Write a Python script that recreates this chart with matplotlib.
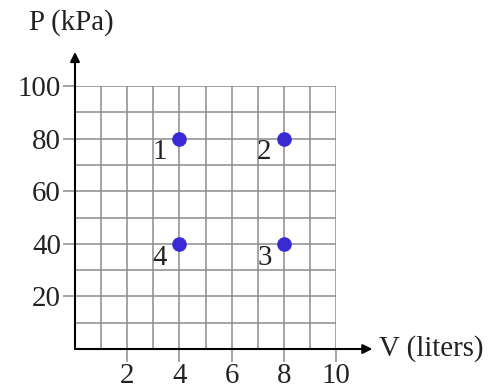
import matplotlib
matplotlib.use("Agg")
import matplotlib.pyplot as plt

# data
vol = [4, 8, 8, 4]
pres = [80, 80, 40, 40]
state_labels = ["1", "2", "3", "4"]
x_ticks = [2, 4, 6, 8, 10]
y_ticks = [20, 40, 60, 80, 100]

plt.rcParams['font.family'] = ['Liberation Serif', 'DejaVu Serif']
GRID = '#8c8c8c'
DOT = '#3a2ad6'
TXT = '#222222'
FS = 20.8

fig = plt.figure(figsize=(5.03, 3.88), dpi=100)
W, H = 503.0, 388.0
ax = fig.add_axes([75 / W, 1 - 349 / H, (336 - 75) / W, (349 - 86) / H])
ax.set_xlim(0, 10)
ax.set_ylim(0, 100)

# grid
for gx in range(1, 11):
    ax.axvline(gx, color=GRID, lw=1.1, zorder=1)
for gy in range(10, 101, 10):
    ax.axhline(gy, color=GRID, lw=1.1, zorder=1)

for s in ['top', 'right']:
    ax.spines[s].set_visible(False)
for s in ['left', 'bottom']:
    ax.spines[s].set_linewidth(1.5)
    ax.spines[s].set_zorder(3)

ax.set_xticks(x_ticks)
ax.set_yticks(y_ticks)
ax.set_xticklabels([str(t) for t in x_ticks])
ax.set_yticklabels([str(t) for t in y_ticks])
ax.tick_params(length=9, width=1.1, color=GRID, labelsize=FS, labelcolor=TXT, pad=1)

# arrows
ax.annotate('', xy=(0, 114), xytext=(0, 99), annotation_clip=False,
            arrowprops=dict(arrowstyle='-|>', color='black', lw=1.5, mutation_scale=14))
ax.annotate('', xy=(11.5, 0), xytext=(9.9, 0), annotation_clip=False,
            arrowprops=dict(arrowstyle='-|>', color='black', lw=1.5, mutation_scale=14))

ax.text(-0.15, 124, 'P (kPa)', fontsize=FS, color=TXT, ha='center', va='center', clip_on=False)
ax.text(11.65, 0, 'V (liters)', fontsize=FS, color=TXT, ha='left', va='center', clip_on=False)

# points
ax.plot(vol, pres, 'o', color=DOT, ms=9.5, zorder=4, clip_on=False)
for v, p, lab in zip(vol, pres, state_labels):
    ax.annotate(lab, (v, p), xytext=(-14, -10), textcoords='offset points',
                fontsize=FS, color=TXT, ha='center', va='center')

fig.savefig('out.png', dpi=100)
